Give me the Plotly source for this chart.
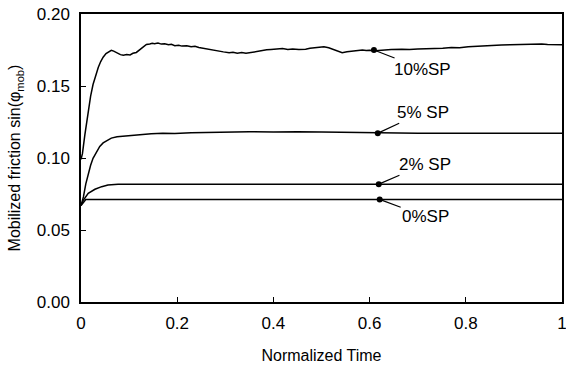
import plotly.graph_objects as go

# ---- data ----
x10 = [0, 0.003, 0.008, 0.012, 0.015, 0.02, 0.025, 0.03, 0.036, 0.041, 0.046, 0.052, 0.058,
       0.063, 0.068, 0.075, 0.082, 0.088, 0.095, 0.102, 0.108, 0.115, 0.122, 0.129, 0.136,
       0.143, 0.148, 0.153, 0.16, 0.167, 0.174, 0.182, 0.188, 0.195, 0.203, 0.21, 0.22, 0.229,
       0.237, 0.245, 0.255, 0.267, 0.276, 0.285, 0.296, 0.308, 0.316, 0.325, 0.334, 0.343,
       0.352, 0.36, 0.368, 0.377, 0.386, 0.395, 0.407, 0.419, 0.43, 0.44, 0.453, 0.467, 0.476,
       0.485, 0.495, 0.505, 0.515, 0.525, 0.534, 0.543, 0.553, 0.565, 0.575, 0.585, 0.593,
       0.6, 0.612, 0.622, 0.63, 0.645, 0.667, 0.683, 0.7, 0.718, 0.736, 0.752, 0.77, 0.787,
       0.805, 0.822, 0.84, 0.857, 0.874, 0.892, 0.91, 0.926, 0.943, 0.958, 0.97, 0.983, 0.995, 1.0]
y10 = [0.099, 0.103, 0.116, 0.126, 0.133, 0.143, 0.151, 0.157, 0.163, 0.167, 0.170, 0.1725, 0.174,
       0.1748, 0.1742, 0.1728, 0.1718, 0.1713, 0.1718, 0.1716, 0.1727, 0.1733, 0.175, 0.1773, 0.1788,
       0.1792, 0.1797, 0.1794, 0.1798, 0.1791, 0.1793, 0.1786, 0.1789, 0.178, 0.1783, 0.1777, 0.178, 0.1773,
       0.1776, 0.1768, 0.1762, 0.175, 0.1748, 0.1741, 0.1737, 0.1731, 0.1734, 0.1728, 0.1732, 0.1727,
       0.1733, 0.1736, 0.1741, 0.1745, 0.1751, 0.1753, 0.1758, 0.176, 0.1754, 0.1757, 0.1753, 0.1755, 0.1762,
       0.1765, 0.177, 0.1773, 0.1765, 0.1752, 0.1738, 0.1731, 0.1738, 0.1742, 0.1747, 0.175, 0.1746,
       0.1748, 0.1745, 0.1749, 0.1752, 0.1754, 0.1755, 0.1753, 0.1757, 0.1758, 0.176, 0.1763, 0.1768, 0.1766,
       0.1773, 0.1777, 0.178, 0.1782, 0.1785, 0.1786, 0.1788, 0.1787, 0.179, 0.1791, 0.1788, 0.1786, 0.1785, 0.1787]

x5 = [0, 0.005, 0.01, 0.015, 0.02, 0.025, 0.032, 0.039, 0.046, 0.056, 0.063, 0.075, 0.091, 0.11,
      0.126, 0.146, 0.17, 0.195, 0.229, 0.26, 0.3, 0.35, 0.4, 0.45, 0.5, 0.55, 0.6, 0.62, 0.7,
      0.8, 0.9, 1.0]
y5 = [0.067, 0.073, 0.082, 0.089, 0.095, 0.0998, 0.104, 0.108, 0.1105, 0.1125, 0.1138, 0.1148,
      0.1153, 0.1157, 0.116, 0.1168, 0.1172, 0.117, 0.1176, 0.1178, 0.118, 0.1182, 0.118, 0.1183,
      0.118, 0.1178, 0.1177, 0.1172, 0.1172, 0.1172, 0.1172, 0.1172]

x2 = [0, 0.005, 0.015, 0.029, 0.043, 0.056, 0.077, 0.1, 0.15, 0.2, 0.25, 0.3, 1.0]
y2 = [0.067, 0.0708, 0.0755, 0.0783, 0.0801, 0.0813, 0.0818, 0.0818, 0.082, 0.0819, 0.0818,
      0.0818, 0.0818]

x0 = [0, 0.01, 1.0]
y0 = [0.067, 0.0712, 0.0712]

labels = ["10%SP", "5% SP", "2% SP", "0%SP"]
label_x = [0.609, 0.617, 0.619, 0.621]
label_y = [0.175, 0.1172, 0.0818, 0.0712]
label_ax = [49, 45, 46, 46]
label_ay = [19, -21, -20, 17]

x_ticks = [0, 0.2, 0.4, 0.6, 0.8, 1]
x_tick_text = ["0", "0.2", "0.4", "0.6", "0.8", "1"]
y_ticks = [0, 0.05, 0.10, 0.15, 0.20]
y_tick_text = ["0.00", "0.05", "0.10", "0.15", "0.20"]

FONT = "Liberation Sans, Arial, sans-serif"

fig = go.Figure()
for xs, ys in [(x10, y10), (x5, y5), (x2, y2), (x0, y0)]:
    fig.add_trace(go.Scatter(x=xs, y=ys, mode="lines",
                             line=dict(color="black", width=1.5),
                             showlegend=False, hoverinfo="skip", cliponaxis=False))

fig.add_trace(go.Scatter(x=label_x, y=label_y, mode="markers",
                         marker=dict(color="black", size=6),
                         showlegend=False, hoverinfo="skip"))

for t, xv, yv, ax, ay in zip(labels, label_x, label_y, label_ax, label_ay):
    fig.add_annotation(x=xv, y=yv, text=t, showarrow=True, arrowhead=0,
                       arrowwidth=1.2, arrowcolor="black", ax=ax, ay=ay,
                       standoff=2, font=dict(family=FONT, size=17, color="black"))

axis_common = dict(showgrid=False, zeroline=False, showline=True, linecolor="black",
                   linewidth=1.5, mirror=True, ticks="inside", ticklen=5,
                   tickcolor="black", tickwidth=1.2, automargin=False,
                   ticklabeloverflow="allow",
                   tickfont=dict(family=FONT, size=17, color="black"))

fig.update_xaxes(range=[0, 1], tickvals=x_ticks, ticktext=x_tick_text,
                 ticklabelstandoff=5,
                 title=dict(text="Normalized Time", font=dict(family=FONT, size=16, color="black"),
                            standoff=18),
                 **axis_common)
fig.update_yaxes(range=[0, 0.20], tickvals=y_ticks, ticktext=y_tick_text,
                 ticklabelstandoff=6,
                 title=dict(text="Mobilized friction sin(φ<sub>mob</sub>)",
                            font=dict(family=FONT, size=16, color="black"), standoff=12),
                 **axis_common)

fig.update_layout(width=566, height=365, margin=dict(l=81, r=4, t=14, b=63, autoexpand=False),
                  plot_bgcolor="white", paper_bgcolor="white",
                  font=dict(family=FONT, color="black"))

fig.write_html("out.html", config={"displayModeBar": False},
               post_script="document.body.style.margin='0';document.body.style.overflow='hidden';")
